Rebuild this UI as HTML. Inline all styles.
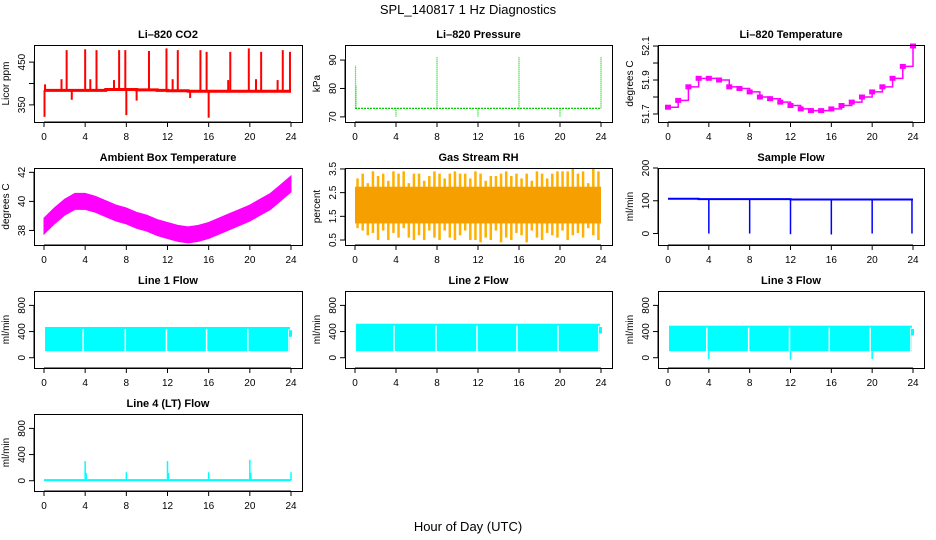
<!DOCTYPE html>
<html><head><meta charset="utf-8"><style>
body{margin:0;background:#fff}
svg{display:block;font-family:"Liberation Sans",sans-serif}
</style></head><body>
<svg id="c" width="936" height="540" viewBox="0 0 936 540">
<text x="468" y="14" text-anchor="middle" font-size="13">SPL_140817  1 Hz Diagnostics</text>
<text x="468" y="531" text-anchor="middle" font-size="13">Hour of Day (UTC)</text>
</svg>
<script>
// ---- data ----
const hours = [0,1,2,3,4,5,6,7,8,9,10,11,12,13,14,15,16,17,18,19,20,21,22,23,24];
const xTicks = [0,4,8,12,16,20,24];
const co2Base = [384,384,384,384,384,384,386,386,386,385,385,384,383,383,382,382,382,382,382,382,382,382,382,382,382];
const co2SpikeTimes = [2.2,4.0,5.1,7.3,7.9,10.2,11.9,13.0,15.2,15.8,18.1,19.9,21.1,23.2,23.9,1.7,4.5,6.8,12.5,17.9,20.6,22.7,0.05,8.0,16.0,0.1,2.7,9.0,14.2];
const co2SpikeVals  = [478,480,478,478,478,476,482,478,478,474,474,482,474,478,474,410,410,408,410,408,410,408,322,326,320,398,362,360,366];
const presBase = [73,73,73,73,73,73,73,73,73,73,73,73,73,73,73,73,73,73,73,73,73,73,73,73,73];
const presSpikeTimes = [0.05,0.1,4,8,12,16,20,24];
const presSpikeVals  = [88,81,70,91,70,91,70,91];
const liTemp = [51.74,51.78,51.86,51.91,51.91,51.90,51.86,51.85,51.83,51.80,51.79,51.77,51.75,51.73,51.72,51.72,51.73,51.75,51.77,51.80,51.83,51.86,51.91,51.98,52.10];
const ambCenter = [38.3,39.0,39.6,40.0,40.0,39.8,39.5,39.2,39.0,38.7,38.5,38.2,38.0,37.8,37.7,37.8,38.0,38.3,38.6,38.9,39.2,39.6,40.0,40.6,41.2];
const rhUp   = [3.1,3.3,2.9,3.4,3.2,3.3,3.0,3.4,3.3,3.4,2.9,3.3,3.3,3.0,3.2,3.4,3.3,3.1,3.3,3.4,3.3,3.3,3.1,3.4,3.3,3.0,3.2,3.2,3.3,3.4,3.2,3.3,3.1,3.3,3.0,3.4,3.3,3.1,3.3,3.4,3.4,3.4,3.5,3.3,3.4,2.9,3.5,3.4];
const rhDown = [1.0,0.9,0.7,0.8,0.5,0.9,0.5,0.8,0.6,1.0,0.6,0.5,0.7,0.5,0.9,0.6,0.5,0.9,0.6,0.5,0.7,0.9,0.5,0.5,0.4,0.6,0.5,0.9,0.4,0.6,0.5,0.8,0.7,0.4,0.9,0.6,0.5,0.8,0.7,0.6,0.9,0.5,0.7,0.8,0.6,1.0,0.7,0.5];
const flowBase = [106,106,106,105,105,105,105,105,105,105,105,105,104,104,104,104,104,104,104,104,104,104,104,104,104];
const flowDipTimes = [4,8,12,16,20,23.9];
const flowDipVals = [0,0,-2,-3,0,0];
const line1Top = 470, line2Top = 520, line3Top = 490, lineBottom = 100;
const lineGapTimes = [3.8,7.9,11.9,15.8,19.8,23.8];
const line3DipTimes = [4,12,20];
const line3DipVals = [-20,-30,-20];
const line4SpikeTimes = [4,4.1,8,12,12.1,16,20,20.1,24];
const line4SpikeVals = [300,120,130,300,120,130,320,120,130];

// ---- layout ----
const NS = 'http://www.w3.org/2000/svg';
const svg = document.getElementById('c');
const cols = [[34,302],[345,612],[658,924]];
const rows = [45,168,291,414];
const PH = 77;
function mk(tag, attrs, parent){const e=document.createElementNS(NS,tag);for(const k in attrs)e.setAttribute(k,attrs[k]);(parent||svg).appendChild(e);return e;}

function panel(ci, ri, name, title, ylab, dom, yTicks, yLabels){
  const L=cols[ci][0], R=cols[ci][1], T=rows[ri], B=T+PH;
  const g = mk('g',{});
  
  
  const x0=L+10, x1=R-11;
  const sx = v => x0 + (v/24)*(x1-x0);
  const sy = v => B - (v-dom[0])/(dom[1]-dom[0])*PH;
  const t = mk('text',{x:(L+R)/2,y:T-7,'text-anchor':'middle','font-size':11,'font-weight':'bold'},g);
  t.textContent = title;
  
  
  const yl = mk('text',{x:0,y:0,transform:`translate(${L-25},${(T+B)/2}) rotate(-90)`,'text-anchor':'middle','font-size':10},g);
  yl.textContent = ylab;
  
  
  const plot = mk('g',{},g);
  
  
  mk('line',{x1:sx(0),x2:sx(24),y1:B,y2:B,stroke:'#000'},g);
  xTicks.forEach(v=>{
    mk('line',{x1:sx(v),x2:sx(v),y1:B,y2:B+5,stroke:'#000'},g);
    const tl = mk('text',{x:sx(v),y:B+18,'text-anchor':'middle','font-size':10},g);
    tl.textContent = v;
    
    
  });
  mk('line',{x1:L,x2:L,y1:sy(yTicks[0]),y2:sy(yTicks[yTicks.length-1]),stroke:'#000'},g);
  yTicks.forEach(v=>{
    mk('line',{x1:L,x2:L-5,y1:sy(v),y2:sy(v),stroke:'#000'},g);
    if(yLabels && yLabels.indexOf(v)<0) return;
    const tl = mk('text',{x:0,y:0,transform:`translate(${L-9},${sy(v)}) rotate(-90)`,'text-anchor':'middle','font-size':10},g);
    tl.textContent = v;
    
    
  });
  const box = mk('rect',{x:L+0.5,y:T+0.5,width:R-L,height:PH,fill:'none',stroke:'#000'},g);
  
  
  return {plot,sx,sy,T,B};
}
function stepPath(vals, sx, sy){
  let d='';
  vals.forEach((v,i)=>{const x=sx(hours[i]);d+=(i?`L${x},${sy(vals[i-1])}L${x},${sy(v)}`:`M${x},${sy(v)}`);});
  return d;
}

// CO2
{
  const p = panel(0,0,'co2','Li\u2013820 CO2','Licor ppm',[310,490],[350,400,450],[350,450]);
  const base = mk('path',{d:stepPath(co2Base,p.sx,p.sy),fill:'none',stroke:'#ff0000','stroke-width':3},p.plot);
  
  
  co2SpikeTimes.forEach((t,i)=>{
    const b = co2Base[Math.round(t)];
    const l = mk('line',{x1:p.sx(t),x2:p.sx(t),y1:p.sy(b),y2:p.sy(co2SpikeVals[i]),stroke:'#ff0000','stroke-width':2},p.plot);
    
    
  });
}
// Pressure
{
  const p = panel(1,0,'pressure','Li\u2013820 Pressure','kPa',[68.2,95.3],[70,80,90]);
  const base = mk('path',{d:stepPath(presBase,p.sx,p.sy),fill:'none',stroke:'#00cc00','stroke-width':1.2,'stroke-dasharray':'2 1'},p.plot);
  
  
  presSpikeTimes.forEach((t,i)=>{
    const l = mk('line',{x1:p.sx(t),x2:p.sx(t),y1:p.sy(73),y2:p.sy(presSpikeVals[i]),stroke:'#00cc00','stroke-width':1.2,'stroke-dasharray':'1 1'},p.plot);
    
    
  });
}
// Li temperature
{
  const p = panel(2,0,'li-temp','Li\u2013820 Temperature','degrees C',[51.653,52.106],[51.7,51.8,51.9,52.0,52.1],[51.7,51.9,52.1]);
  const l = mk('path',{d:stepPath(liTemp,p.sx,p.sy),fill:'none',stroke:'#ff00ff','stroke-width':1.5},p.plot);
  
  
  liTemp.forEach((v,i)=>{
    const r = mk('rect',{x:p.sx(hours[i])-3,y:p.sy(v)-2.5,width:6,height:5,fill:'#ff00ff'},p.plot);
    
    
  });
}
// Ambient
{
  const p = panel(0,1,'ambient','Ambient Box Temperature','degrees C',[37.0,42.3],[38,40,42]);
  let up='',dn='';
  ambCenter.forEach((v,i)=>{up+=(i?'L':'M')+p.sx(hours[i])+','+p.sy(v+0.55);});
  for(let i=ambCenter.length-1;i>=0;i--){dn+='L'+p.sx(hours[i])+','+p.sy(ambCenter[i]-0.55);}
  const a = mk('path',{d:up+dn+'Z',fill:'#ff00ff',stroke:'#ff00ff','stroke-width':1},p.plot);
  
  
}
// RH
{
  const p = panel(1,1,'rh','Gas Stream RH','percent',[0.29,3.54],[0.5,1.5,2.5,3.5]);
  const n = rhUp.length;
  rhUp.forEach((v,i)=>{
    const t = (i+0.5)*24/n;
    const l = mk('line',{x1:p.sx(t),x2:p.sx(t),y1:p.sy(rhDown[i]),y2:p.sy(v),stroke:'#ffb000','stroke-width':2.5},p.plot);
    
    
  });
  const core = mk('rect',{x:p.sx(0),y:p.sy(2.75),width:p.sx(24)-p.sx(0),height:p.sy(1.2)-p.sy(2.75),fill:'#f5a000'},p.plot);
  
  
}
// Sample flow
{
  const p = panel(2,1,'sample-flow','Sample Flow','ml/min',[-35,200],[0,100,200]);
  const l = mk('path',{d:stepPath(flowBase,p.sx,p.sy),fill:'none',stroke:'#0000ff','stroke-width':2},p.plot);
  
  
  flowDipTimes.forEach((t,i)=>{
    const d = mk('line',{x1:p.sx(t),x2:p.sx(t),y1:p.sy(104),y2:p.sy(flowDipVals[i]),stroke:'#0000ff','stroke-width':1.5},p.plot);
    
    
  });
}
// Line flows
function lineFlow(ci,ri,name,title,top,dipT,dipV){
  const p = panel(ci,ri,name,title,'ml/min',[-157,1020],[0,400,800]);
  const r = mk('rect',{x:p.sx(0.1),y:p.sy(top),width:p.sx(23.9)-p.sx(0.1),height:p.sy(lineBottom)-p.sy(top),fill:'#00ffff'},p.plot);
  
  
  lineGapTimes.forEach(t=>{
    const g = mk('line',{x1:p.sx(t),x2:p.sx(t),y1:p.sy(top)+2,y2:p.sy(lineBottom),stroke:'#fff','stroke-width':1.5},p.plot);
    
    
  });
  dipT.forEach((t,i)=>{
    const d = mk('line',{x1:p.sx(t),x2:p.sx(t),y1:p.sy(lineBottom),y2:p.sy(dipV[i]),stroke:'#00ffff','stroke-width':1.5},p.plot);
    
    
  });
  const e = mk('rect',{x:p.sx(24)-2,y:p.sy(top-50),width:3,height:p.sy(top-150)-p.sy(top-50),fill:'#00ffff'},p.plot);
  
  
}
lineFlow(0,2,'line1-flow','Line 1 Flow',line1Top,[],[]);
lineFlow(1,2,'line2-flow','Line 2 Flow',line2Top,[],[]);
lineFlow(2,2,'line3-flow','Line 3 Flow',line3Top,line3DipTimes,line3DipVals);
// Line 4
{
  const p = panel(0,3,'line4-flow','Line 4 (LT) Flow','ml/min',[-157,1020],[0,400,800]);
  const r = mk('rect',{x:p.sx(0),y:p.sy(25),width:p.sx(24)-p.sx(0),height:p.sy(-5)-p.sy(25),fill:'#00ffff'},p.plot);
  
  
  line4SpikeTimes.forEach((t,i)=>{
    const l = mk('line',{x1:p.sx(t),x2:p.sx(t),y1:p.sy(10),y2:p.sy(line4SpikeVals[i]),stroke:'#00ffff','stroke-width':1.5},p.plot);
    
    
  });
}
</script>
</body></html>
